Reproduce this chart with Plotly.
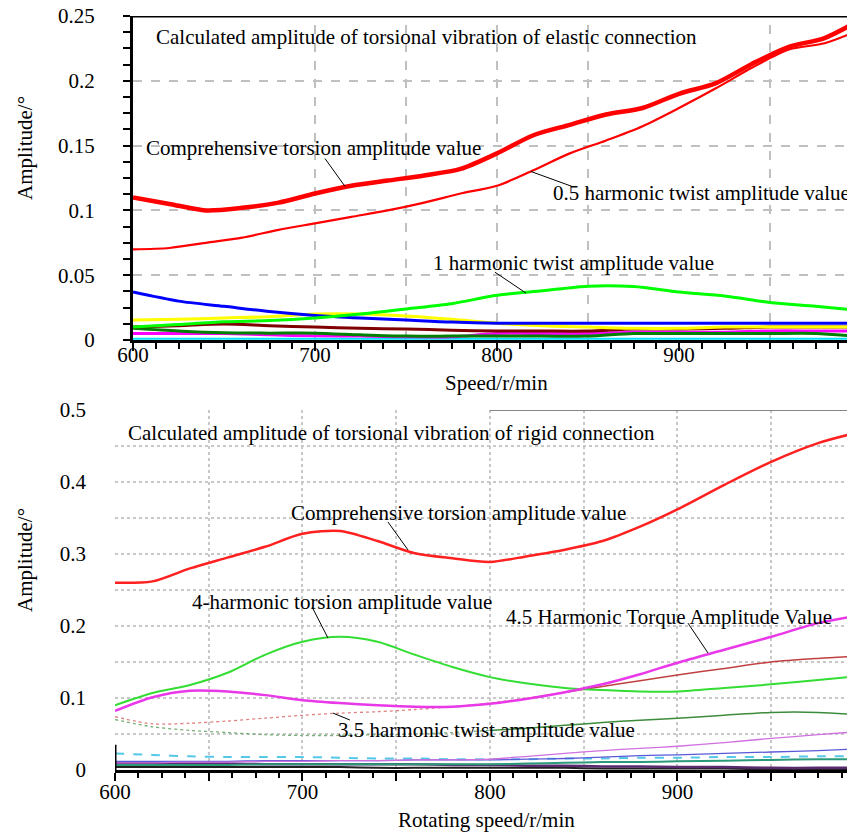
import plotly.graph_objects as go

FONT = "Liberation Serif, Times New Roman, serif"

# ---------------- Top chart: elastic connection ----------------
speed_top = [600, 620, 640, 660, 680, 700, 720, 740, 760, 780, 800, 820, 840, 860,
             880, 900, 920, 940, 960, 980, 997]
comp_top = [0.110, 0.105, 0.100, 0.102, 0.106, 0.113, 0.119, 0.123, 0.127, 0.132, 0.144,
            0.158, 0.166, 0.174, 0.179, 0.190, 0.198, 0.213, 0.226, 0.233, 0.245]
h05_top = [0.070, 0.071, 0.075, 0.079, 0.085, 0.090, 0.095, 0.100, 0.106, 0.113, 0.119,
           0.131, 0.144, 0.154, 0.165, 0.179, 0.194, 0.210, 0.224, 0.229, 0.238]

speed_top_low = [600, 625, 650, 675, 700, 725, 750, 775, 800, 825, 850, 875, 900, 925,
                 950, 975, 997]
h1_top = [0.010, 0.012, 0.014, 0.015, 0.017, 0.020, 0.024, 0.028, 0.0345, 0.038, 0.0415,
          0.0412, 0.037, 0.034, 0.029, 0.026, 0.023]
blue_top = [0.037, 0.030, 0.026, 0.022, 0.019, 0.017, 0.0154, 0.0138, 0.013, 0.013, 0.013,
            0.013, 0.013, 0.013, 0.013, 0.013, 0.013]
yellow_top = [0.0154, 0.016, 0.017, 0.018, 0.020, 0.020, 0.0185, 0.016, 0.013, 0.011, 0.010,
              0.009, 0.009, 0.010, 0.010, 0.010, 0.010]
maroon_top = [0.010, 0.011, 0.0123, 0.011, 0.010, 0.009, 0.0085, 0.0075, 0.0069, 0.0069,
              0.0069, 0.0085, 0.0085, 0.0090, 0.010, 0.010, 0.010]
dgreen_top = [0.009, 0.0069, 0.0055, 0.0053, 0.0053, 0.004, 0.003, 0.003, 0.003, 0.003,
              0.003, 0.005, 0.005, 0.005, 0.005, 0.005, 0.003]
magenta_top = [0.005, 0.005, 0.005, 0.004, 0.0032, 0.003, 0.0025, 0.0025, 0.005, 0.005,
               0.005, 0.006, 0.006, 0.006, 0.007, 0.007, 0.007]
cyan_top = [0.001, 0.001, 0.001, 0.001, 0.001, 0.001, 0.001, 0.001, 0.001, 0.001, 0.001,
            0.001, 0.001, 0.001, 0.001, 0.001, 0.001]

# ---------------- Bottom chart: rigid connection ----------------
speed_bot = [600, 620, 640, 660, 680, 700, 720, 740, 760, 780, 800, 820, 840, 860, 880,
             900, 925, 950, 975, 995]
comp_bot = [0.260, 0.262, 0.280, 0.295, 0.310, 0.328, 0.332, 0.318, 0.301, 0.294, 0.289,
            0.297, 0.306, 0.318, 0.338, 0.362, 0.396, 0.428, 0.454, 0.468]
h4_bot = [0.090, 0.107, 0.118, 0.135, 0.160, 0.178, 0.185, 0.178, 0.160, 0.143, 0.129,
          0.120, 0.114, 0.111, 0.109, 0.109, 0.114, 0.119, 0.125, 0.130]
h45_bot = [0.082, 0.101, 0.110, 0.109, 0.104, 0.097, 0.093, 0.090, 0.088, 0.088, 0.092,
           0.099, 0.108, 0.119, 0.133, 0.149, 0.167, 0.185, 0.204, 0.214]
h35_bot = [0.074, 0.064, 0.065, 0.068, 0.072, 0.076, 0.079, 0.081, 0.084, 0.088, 0.093,
           0.100, 0.108, 0.116, 0.124, 0.132, 0.141, 0.150, 0.155, 0.158]
dgreen_bot = [0.070, 0.060, 0.055, 0.052, 0.049, 0.048, 0.048, 0.049, 0.050, 0.052, 0.055,
              0.058, 0.062, 0.066, 0.069, 0.072, 0.076, 0.080, 0.080, 0.077]
violet_bot = [0.010, 0.010, 0.011, 0.011, 0.012, 0.012, 0.013, 0.013, 0.014, 0.014, 0.015,
              0.019, 0.023, 0.027, 0.030, 0.033, 0.038, 0.044, 0.049, 0.053]
blue_bot = [0.012, 0.012, 0.012, 0.012, 0.013, 0.013, 0.013, 0.013, 0.014, 0.014, 0.014,
            0.015, 0.016, 0.018, 0.020, 0.021, 0.023, 0.025, 0.027, 0.029]
cyan_bot = [0.023, 0.021, 0.019, 0.018, 0.018, 0.018, 0.017, 0.016, 0.016, 0.015, 0.015,
            0.015, 0.016, 0.016, 0.017, 0.017, 0.018, 0.018, 0.019, 0.019]
teal_bot = [0.007, 0.007, 0.007, 0.007, 0.008, 0.008, 0.008, 0.008, 0.008, 0.008, 0.008,
            0.009, 0.010, 0.011, 0.011, 0.012, 0.013, 0.014, 0.015, 0.015]
purple_bot = [0.010, 0.010, 0.009, 0.009, 0.008, 0.008, 0.008, 0.008, 0.008, 0.007, 0.007,
              0.006, 0.006, 0.005, 0.005, 0.004, 0.004, 0.003, 0.003, 0.003]
dark_bot = [0.004, 0.004, 0.004, 0.004, 0.004, 0.004, 0.004, 0.003, 0.003, 0.003, 0.003,
            0.003, 0.003, 0.002, 0.002, 0.002, 0.002, 0.001, 0.001, 0.001]

top_grid_x = [700, 750, 800, 850, 950]

# page offset of the figure (browser body margin) and figure size
OFF = 8
W, H = 855 - OFF, 835 - OFF


def pxx(p):
    return (p - OFF) / W


def pxy(p):
    return (H - (p - OFF)) / H


fig = go.Figure()


def add(x, y, color, width, xa="x", ya="y", dash="solid"):
    fig.add_trace(go.Scatter(x=x, y=y, mode="lines", xaxis=xa, yaxis=ya,
                             line=dict(color=color, width=width, dash=dash,
                                       shape="spline", smoothing=0.8),
                             showlegend=False, hoverinfo="skip"))


# top traces (low ones first)
add(speed_top_low, cyan_top, "#00e5ff", 2)
add(speed_top_low, magenta_top, "#ff00ff", 3)
add(speed_top_low, dgreen_top, "#008000", 3)
add(speed_top_low, maroon_top, "#800000", 3)
add(speed_top_low, yellow_top, "#ffff00", 3)
add(speed_top_low, blue_top, "#0000ff", 3)
add(speed_top_low, h1_top, "#00ff00", 3)
add(speed_top, h05_top, "#ff0000", 2.2)
add(speed_top, comp_top, "#ff0000", 4.5)

# bottom traces
B = dict(xa="x2", ya="y2")
add(speed_bot, dark_bot, "#202020", 2, **B)
add(speed_bot, purple_bot, "#5a2a70", 2.5, **B)
add(speed_bot, teal_bot, "#2a9a7a", 2, **B)
add(speed_bot, cyan_bot, "#55c8e8", 2, dash="dash", **B)
add(speed_bot, blue_bot, "#5a5ad8", 1.3, **B)
add(speed_bot, violet_bot, "#d070e0", 1.3, **B)
cut = 10
add(speed_bot[:cut + 1], dgreen_bot[:cut + 1], "#78b078", 1.3, dash="dot", **B)
add(speed_bot[cut:], dgreen_bot[cut:], "#3c8c3c", 1.5, **B)
add(speed_bot[:cut + 3], h35_bot[:cut + 3], "#e08080", 1.3, dash="dot", **B)
add(speed_bot[cut + 2:], h35_bot[cut + 2:], "#c04040", 1.5, **B)
add(speed_bot, h4_bot, "#33dd33", 2, **B)
add(speed_bot, h45_bot, "#e838e8", 2.5, **B)
add(speed_bot, comp_bot, "#ff2020", 2.5, **B)

tickfont = dict(family=FONT, size=21, color="black")

fig.update_layout(
    width=W, height=H,
    margin=dict(l=0, r=0, t=0, b=0, pad=0, autoexpand=False),
    paper_bgcolor="white", plot_bgcolor="white",
    font=dict(family=FONT, size=21, color="black"),
    xaxis=dict(domain=[pxx(133), 1], range=[600, 996.7], anchor="y", automargin=False,
               tickvals=[600, 700, 800, 900], ticks="outside", ticklen=8, tickwidth=2,
               tickcolor="black", showline=True, linecolor="black", linewidth=3,
               showgrid=False, zeroline=False, tickfont=tickfont, ticklabelstandoff=-14,
               ticklabeloverflow="allow",
               minor=dict(tick0=600, dtick=12.5, ticks="outside", ticklen=6,
                          tickwidth=2, tickcolor="black")),
    yaxis=dict(domain=[pxy(340), pxy(16)], range=[0, 0.25], anchor="x",
               automargin=False, ticklabeloverflow="allow",
               tickvals=[0, 0.05, 0.1, 0.15, 0.2, 0.25],
               ticktext=["0", "0.05", "0.1", "0.15", "0.2", "0.25"],
               ticks="outside", ticklen=7, tickwidth=2, tickcolor="black",
               showline=True, linecolor="black", linewidth=3,
               showgrid=True, gridcolor="#c0c0c0", gridwidth=2, griddash="dash",
               zeroline=False, tickfont=tickfont, ticklabelstandoff=24,
               minor=dict(tick0=0, dtick=0.0125, ticks="outside", ticklen=7,
                          tickwidth=2, tickcolor="black")),
    xaxis2=dict(domain=[pxx(115), 1], range=[600, 994.7], anchor="y2", automargin=False,
                ticklabeloverflow="allow",
                tickvals=[600, 650, 700, 750, 800, 850, 900, 950],
                ticktext=["600", "", "700", "", "800", "", "900", ""],
                ticks="outside", ticklen=8, tickwidth=2, tickcolor="black",
                showline=True, linecolor="black", linewidth=2.5,
                showgrid=True, gridcolor="#c8c8c8", gridwidth=1.5, griddash="dot",
                zeroline=False, tickfont=tickfont, ticklabelstandoff=-7,
                minor=dict(tick0=600, dtick=12.5, ticks="outside", ticklen=5,
                           tickwidth=1.5, tickcolor="black")),
    yaxis2=dict(domain=[pxy(770), pxy(410)], range=[0, 0.5], anchor="x2",
                automargin=False, ticklabeloverflow="allow",
                tickvals=[0, 0.1, 0.2, 0.3, 0.4, 0.5],
                ticktext=["0", "0.1", "0.2", "0.3", "0.4", "0.5"],
                ticks="", showline=False,
                showgrid=True, gridcolor="#c8c8c8", gridwidth=1.5, griddash="dot",
                zeroline=False, tickfont=tickfont, ticklabelstandoff=28,
                minor=dict(dtick=0.05, showgrid=True, gridcolor="#c8c8c8",
                           gridwidth=1.5, griddash="dot")),
)

shapes = []
# top chart border and dashed vertical grid
shapes.append(dict(type="line", xref="x domain", yref="y", x0=0, x1=1, y0=0.25, y1=0.25,
                   line=dict(color="black", width=3)))
for gx in top_grid_x:
    shapes.append(dict(type="line", xref="x", yref="y domain", x0=gx, x1=gx, y0=0, y1=1,
                       line=dict(color="#c0c0c0", width=2, dash="dash"), layer="below"))
# bottom chart top border (solid part) and solid lower-left axis stub
shapes.append(dict(type="line", xref="x2", yref="y2", x0=800, x1=994.7, y0=0.5, y1=0.5,
                   line=dict(color="#606060", width=1.5)))
shapes.append(dict(type="line", xref="x2", yref="y2", x0=600, x1=600, y0=0, y1=0.035,
                   line=dict(color="black", width=3)))

# leader lines
leaders = [
    ("x", "y", 705.5, 0.140, 716.5, 0.1185),
    ("x", "y", 841.2, 0.1185, 818.7, 0.130),
    ("x", "y", 798.9, 0.0523, 815.9, 0.0362),
    ("x2", "y2", 745.6, 0.3444, 756.3, 0.3056),
    ("x2", "y2", 705.1, 0.2264, 713.6, 0.1833),
    ("x2", "y2", 905.6, 0.204, 916.3, 0.1625),
    ("x2", "y2", 716.3, 0.079, 725.3, 0.0694),
]
for xr, yr, x0, y0, x1, y1 in leaders:
    shapes.append(dict(type="line", xref=xr, yref=yr, x0=x0, y0=y0, x1=x1, y1=y1,
                       line=dict(color="black", width=1)))
fig.update_layout(shapes=shapes)

labels = [
    ("x", "y", 612.1, 0.2338, "Calculated amplitude of torsional vibration of elastic connection"),
    ("x", "y", 606.6, 0.1485, "Comprehensive torsion amplitude value"),
    ("x", "y", 830.2, 0.1131, "0.5 harmonic twist amplitude value"),
    ("x", "y", 764.3, 0.0592, "1 harmonic twist amplitude value"),
    ("x2", "y2", 606.4, 0.468, "Calculated amplitude of torsional vibration of rigid connection"),
    ("x2", "y2", 693.3, 0.357, "Comprehensive torsion amplitude value"),
    ("x2", "y2", 640.5, 0.2333, "4-harmonic torsion amplitude value"),
    ("x2", "y2", 808.0, 0.2125, "4.5 Harmonic Torque Amplitude Value"),
    ("x2", "y2", 718.4, 0.0556, "3.5 harmonic twist amplitude value"),
]
annotations = []
for xr, yr, x, y, t in labels:
    annotations.append(dict(xref=xr, yref=yr, x=x, y=y, text=t, showarrow=False,
                            xanchor="left", yanchor="middle", borderpad=0,
                            font=dict(family=FONT, size=21, color="black")))
# axis titles
annotations += [
    dict(xref="paper", yref="paper", x=pxx(25), y=pxy(148), text="Amplitude/°",
         textangle=-90, showarrow=False, xanchor="center", yanchor="middle",
         font=dict(family=FONT, size=21, color="black")),
    dict(xref="paper", yref="paper", x=pxx(25), y=pxy(560), text="Amplitude/°",
         textangle=-90, showarrow=False, xanchor="center", yanchor="middle",
         font=dict(family=FONT, size=21, color="black")),
    dict(xref="paper", yref="paper", x=pxx(496), y=pxy(383), text="Speed/r/min",
         showarrow=False, xanchor="center", yanchor="middle",
         font=dict(family=FONT, size=21, color="black")),
    dict(xref="paper", yref="paper", x=pxx(486), y=pxy(820),
         text="Rotating speed/r/min", showarrow=False, xanchor="center", yanchor="middle",
         font=dict(family=FONT, size=21, color="black")),
]
fig.update_layout(annotations=annotations)

fig.write_html("out.html")
